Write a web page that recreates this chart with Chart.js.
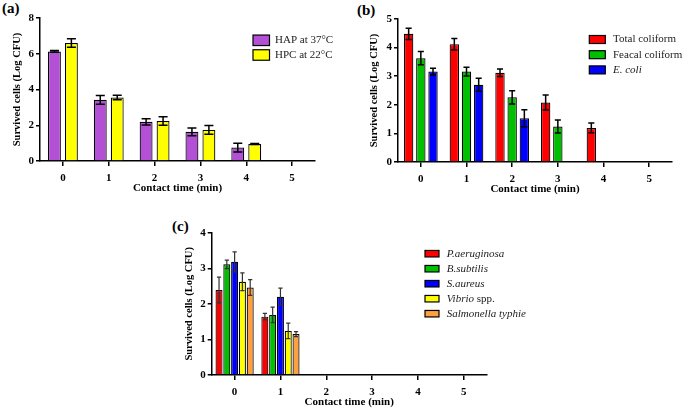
<!DOCTYPE html>
<html>
<head>
<meta charset="utf-8">
<script src="https://cdn.jsdelivr.net/npm/chart.js@4.4.0/dist/chart.umd.min.js"></script>
<style>
  body { margin: 0; background: #fff; width: 685px; height: 410px; position: relative; overflow: hidden; font-family: 'Liberation Serif', 'Times New Roman', serif; }
  canvas { position: absolute; }
  .tag { position: absolute; font-weight: bold; font-size: 15px; line-height: 15px; color: #000; }
</style>
</head>
<body>
<div class="tag" style="left:2px;top:1px">(a)</div>
<div class="tag" style="left:357px;top:3px">(b)</div>
<div class="tag" style="left:172px;top:219px">(c)</div>
<canvas id="chartA" width="340" height="200" style="left:0;top:0"></canvas>
<canvas id="chartB" width="345" height="200" style="left:340px;top:0"></canvas>
<canvas id="chartC" width="515" height="210" style="left:170px;top:200px"></canvas>
<script>
const serif = "'Liberation Serif', 'Times New Roman', serif";
const timeLabels = ['0', '1', '2', '3', '4', '5'];

// (a) plate counts
const hapValues = [6.13, 3.42, 2.19, 1.63, 0.75, 0];
const hapErrors = [0.05, 0.24, 0.18, 0.22, 0.24, 0];
const hpcValues = [6.6, 3.55, 2.24, 1.74, 0.95, 0];
const hpcErrors = [0.24, 0.13, 0.24, 0.24, 0.03, 0];

// (b) coliforms
const totalValues = [4.48, 4.12, 3.12, 2.08, 1.19, 0];
const totalErrors = [0.2, 0.2, 0.13, 0.26, 0.17, 0];
const feacalValues = [3.63, 3.16, 2.26, 1.24, 0, 0];
const feacalErrors = [0.23, 0.15, 0.23, 0.23, 0, 0];
const ecoliValues = [3.16, 2.7, 1.53, 0, 0, 0];
const ecoliErrors = [0.12, 0.23, 0.3, 0, 0, 0];

// (c) pathogens
const paerValues = [2.39, 1.64, 0, 0, 0, 0];
const paerErrors = [0.36, 0.09, 0, 0, 0, 0];
const bsubValues = [3.11, 1.69, 0, 0, 0, 0];
const bsubErrors = [0.12, 0.22, 0, 0, 0, 0];
const saurValues = [3.18, 2.2, 0, 0, 0, 0];
const saurErrors = [0.28, 0.24, 0, 0, 0, 0];
const vibrioValues = [2.62, 1.24, 0, 0, 0, 0];
const vibrioErrors = [0.25, 0.22, 0, 0, 0, 0];
const salmValues = [2.46, 1.15, 0, 0, 0, 0];
const salmErrors = [0.22, 0.07, 0, 0, 0, 0];

const errorBars = {
  id: 'errorBars',
  afterDatasetsDraw(chart, args, o) {
    const ctx = chart.ctx;
    const y = chart.scales.y;
    chart.data.datasets.forEach((ds, di) => {
      const meta = chart.getDatasetMeta(di);
      meta.data.forEach((bar, i) => {
        const v = ds.data[i], e = ds.errors[i];
        if (!v || !e) return;
        const half = bar.width * o.cap / 2;
        const top = y.getPixelForValue(v + e);
        const bot = y.getPixelForValue(v - e);
        ctx.save();
        ctx.strokeStyle = o.color;
        ctx.lineWidth = o.width;
        ctx.beginPath();
        ctx.moveTo(bar.x, top); ctx.lineTo(bar.x, bot);
        ctx.moveTo(bar.x - half, top); ctx.lineTo(bar.x + half, top);
        ctx.moveTo(bar.x - half, bot); ctx.lineTo(bar.x + half, bot);
        ctx.stroke();
        ctx.restore();
      });
    });
  }
};

// legend boxes drawn where the original has them; *text* is italic
const boxLegend = {
  id: 'boxLegend',
  afterDraw(chart, args, o) {
    const ctx = chart.ctx;
    chart.data.datasets.forEach((ds, i) => {
      const cy = o.y + i * o.gap;
      ctx.save();
      ctx.fillStyle = ds.backgroundColor;
      ctx.fillRect(o.x, cy - o.h / 2, o.w, o.h);
      ctx.strokeStyle = '#000';
      ctx.lineWidth = 1.2;
      ctx.strokeRect(o.x, cy - o.h / 2, o.w, o.h);
      let tx = o.x + o.w + o.pad;
      ctx.fillStyle = '#222';
      ctx.textBaseline = 'middle';
      ds.label.split('*').forEach((part, k) => {
        if (!part) return;
        ctx.font = (k % 2 ? 'italic ' : '') + '11px ' + serif;
        ctx.fillText(part, tx, cy);
        tx += ctx.measureText(part).width;
      });
      ctx.restore();
    });
  }
};

function makeScales(yMax, yWidth, xHeight, yTitlePad, xTitlePad) {
  const tickFont = { family: serif, size: 11, weight: 'bold' };
  return {
    x: {
      offset: true,
      grid: { display: true, drawOnChartArea: false, offset: false, color: '#000', lineWidth: 1.5, tickLength: 5 },
      border: { color: '#000', width: 1.5 },
      ticks: { color: '#000', font: tickFont, padding: 6, maxRotation: 0 },
      title: { display: true, text: 'Contact time (min)', color: '#000', font: { family: serif, size: 11, weight: 'bold' }, padding: { top: 0, bottom: xTitlePad } },
      afterFit(s) { s.height = xHeight; }
    },
    y: {
      min: 0, max: yMax,
      grid: { display: true, drawOnChartArea: false, color: '#000', lineWidth: 1.5, tickLength: 4 },
      border: { color: '#000', width: 1.5 },
      ticks: { color: '#000', font: tickFont, padding: 2, stepSize: yMax === 8 ? 2 : 1 },
      title: { display: true, text: 'Survived cells (Log CFU)', color: '#000', font: { family: serif, size: 10.5, weight: 'bold' }, padding: { top: yTitlePad, bottom: 0 } },
      afterFit(s) { s.width = yWidth; }
    }
  };
}

function bars(label, values, errors, color, catPct, barPct) {
  return {
    label: label, data: values, errors: errors,
    backgroundColor: color, borderColor: '#000', borderWidth: 1.2,
    categoryPercentage: catPct, barPercentage: barPct
  };
}

function makeChart(id, datasets, padding, scales, legend, err) {
  return new Chart(document.getElementById(id), {
    type: 'bar',
    data: { labels: timeLabels, datasets: datasets },
    options: {
      responsive: false,
      animation: false,
      layout: { padding: padding },
      scales: scales,
      plugins: {
        legend: { display: false },
        tooltip: { enabled: false },
        errorBars: err,
        boxLegend: legend
      }
    },
    plugins: [errorBars, boxLegend]
  });
}

makeChart('chartA', [
  bars('HAP at 37°C', hapValues, hapErrors, '#B450D6', 0.74, 0.76),
  bars('HPC at 22°C', hpcValues, hpcErrors, '#FFFF00', 0.74, 0.76)
], { top: 18, right: 25, bottom: 0, left: 0 },
  makeScales(8, 40, 39, 10.7, 5.4),
  { x: 253, y: 40.3, w: 16.5, h: 10.5, gap: 14.7, pad: 5.5 },
  { cap: 0.7, color: '#000', width: 1.5 });

makeChart('chartB', [
  bars('Total coliform', totalValues, totalErrors, '#FF0000', 0.8, 0.77),
  bars('Feacal coliform', feacalValues, feacalErrors, '#00C000', 0.8, 0.77),
  bars('*E. coli*', ecoliValues, ecoliErrors, '#0000FF', 0.8, 0.77)
], { top: 19, right: 13, bottom: 0, left: 0 },
  makeScales(5, 58, 38, 27.7, 4.4),
  { x: 249.3, y: 39.5, w: 16, h: 8, gap: 15.2, pad: 7.7 },
  { cap: 0.65, color: '#000', width: 1.5 });

makeChart('chartC', [
  bars('*P.aeruginosa*', paerValues, paerErrors, '#FF0000', 0.85, 0.9),
  bars('*B.subtilis*', bsubValues, bsubErrors, '#00C000', 0.85, 0.9),
  bars('*S.aureus*', saurValues, saurErrors, '#0000FF', 0.85, 0.9),
  bars('*Vibrio* spp.', vibrioValues, vibrioErrors, '#FFFF00', 0.85, 0.9),
  bars('*Salmonella typhie*', salmValues, salmErrors, '#FFA040', 0.85, 0.9)
], { top: 32.7, right: 198.3, bottom: 0, left: 0 },
  makeScales(4, 41.7, 35, 13.2, 1.7),
  { x: 255, y: 53.7, w: 14, h: 6.5, gap: 15, pad: 7.7 },
  { cap: 0.6, color: '#333', width: 1.2 });
</script>
</body>
</html>
